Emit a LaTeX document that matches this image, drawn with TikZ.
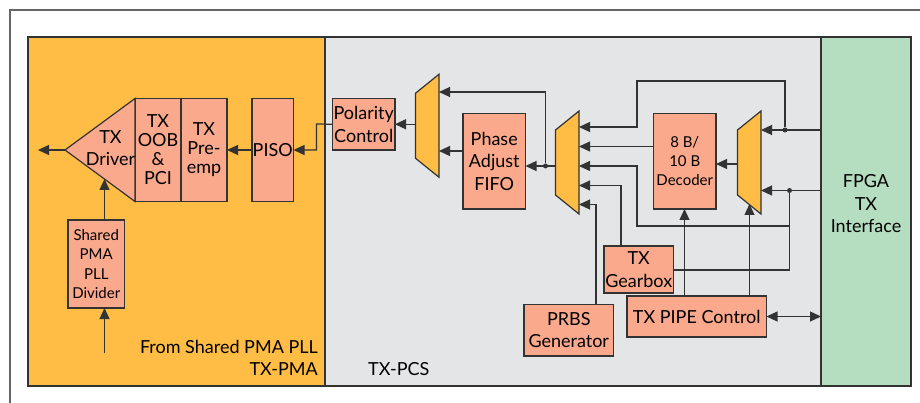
\documentclass[tikz,border=0pt]{standalone}
\usepackage{fontspec}
\setmainfont{Lato}
\usetikzlibrary{arrows.meta, positioning, calc}
\definecolor{pmayellow}{HTML}{FFBD45}
\definecolor{pcsgray}{HTML}{E4E5E7}
\definecolor{fpgagreen}{HTML}{B5DDC0}
\definecolor{blocksalmon}{HTML}{FBA98D}
\definecolor{wiregray}{HTML}{333333}
\tikzset{
  block/.style   = {draw=wiregray, fill=blocksalmon, rectangle, line width=1.2pt,
                    outer sep=0pt, inner sep=0pt, align=center,
                    font=\fontsize{18}{22.5}\selectfont},
  tblock/.style  = {block, font=\fontsize{18}{19}\selectfont},
  sblock/.style  = {block, font=\fontsize{15}{19.2}\selectfont},
  region/.style  = {draw=wiregray, rectangle, line width=1.2pt, outer sep=0pt, inner sep=0pt},
  muxbox/.style  = {rectangle, outer sep=0pt, inner sep=0pt,
                    minimum width=23.5pt, minimum height=103pt},
  junction/.style = {circle, fill=wiregray, minimum size=5pt, inner sep=0pt, outer sep=0pt},
  caption/.style = {font=\fontsize{18}{22.5}\selectfont, inner sep=0pt},
  wire/.style    = {draw=wiregray, line width=1.2pt},
  >={Triangle[length=11pt,width=10pt]}
}
% trapezoid over a named box
\newcommand{\muxshape}[2]{%
  \node[muxbox] (#1) at (#2) {};
  \draw[wire, fill=pmayellow] (#1.north east) -- (#1.south east)
    -- ($(#1.south west)+(0,-19)$) -- ($(#1.north west)+(0,19)$) -- cycle;
}
\begin{document}
\begin{tikzpicture}[x=1pt, y=-1pt]
  \useasboundingbox (0,0) rectangle (920,403);

  %% frame and panels
  \node[draw=black!60, line width=2pt, rectangle, minimum width=960pt, minimum height=460pt,
        anchor=north west, outer sep=0pt] (frame) at (10,10) {};
  \node[region, fill=pmayellow, minimum width=297pt, minimum height=349pt, anchor=north west] (pma) at (28,37) {};
  \node[region, fill=pcsgray, minimum width=496pt, minimum height=349pt, right=0pt of pma] (pcs) {};
  \node[region, fill=fpgagreen, minimum width=90pt, minimum height=349pt, right=0pt of pcs] (fpga) {};
  \node[caption, align=center] (fpgatext) at (866,204) {FPGA\\TX\\Interface};

  %% PMA blocks
  \coordinate (drvtip) at (65,150);
  \node[tblock, minimum width=46pt, minimum height=103pt, anchor=north west] (oob) at (135,98.5) {TX\\OOB\\\&\\PCI};
  \node[tblock, minimum width=46pt, minimum height=103pt, right=0pt of oob] (preemp) {TX\\Pre-\\emp};
  \node[block, minimum width=41.5pt, minimum height=103pt, right=25pt of preemp] (piso) {PISO};
  \draw[wire, fill=blocksalmon] (drvtip) -- (oob.north west) -- (oob.south west) -- cycle;
  \node[caption, align=center] (driver) at (110.5,148) {TX\\Driver};
  \node[sblock, minimum width=56.5pt, minimum height=88pt, anchor=north west] (divider) at (68,220) {Shared\\PMA\\PLL\\Divider};
  \coordinate (drvout) at (38,150);
  \coordinate (drvin) at (104.5,179);
  \coordinate (pllin) at (104.5,353);
  \node[caption, anchor=south east] (from) at (318,354) {From Shared PMA PLL};
  \node[caption, anchor=south east] (pmalabel) at (318,376) {TX-PMA};
  \node[caption, anchor=south west] (pcslabel) at (368,376) {TX-PCS};

  %% PCS blocks
  \node[block, minimum width=62.5pt, minimum height=51.5pt, anchor=north west] (polarity) at (332.5,98.5) {Polarity\\Control};
  \muxshape{muxa}{427.25,125.75}
  \node[block, minimum width=62.5pt, minimum height=95.5pt, anchor=north west] (fifo) at (463,113.5) {Phase\\Adjust\\FIFO};
  \muxshape{muxb}{567.25,162.5}
  \node[sblock, minimum width=62.5pt, minimum height=95.5pt, anchor=north west] (decoder) at (653.5,113.5) {8 B/\\10 B\\Decoder};
  \muxshape{muxc}{749.25,162.5}
  \node[block, minimum width=69.5pt, minimum height=47pt, anchor=north west] (gearbox) at (604,246) {TX\\Gearbox};
  \node[block, minimum width=139.5pt, minimum height=41pt, anchor=north west] (pipe) at (627,296) {TX PIPE Control};
  \node[block, minimum width=89.5pt, minimum height=51.5pt, anchor=north west] (prbs) at (524,304.5) {PRBS\\Generator};

  %% junctions
  \node[junction] (jfifo) at (545.5,166) {};
  \node[junction] (jtop)  at (785,130) {};
  \node[junction] (jbot)  at (789.5,190.5) {};

  %% PMA wires
  \draw[wire, ->] (drvtip) -- (drvout);
  \draw[wire, ->] (divider.north -| drvin) -- (drvin);
  \draw[wire, ->] (pllin) -- (divider.south -| pllin);
  \draw[wire, ->] (piso.west) -- (preemp.east);
  \draw[wire, ->] (polarity.west) -- (316.5,124) -- (316.5,150) -- (piso.east);

  %% PCS wires
  \draw[wire, ->] (muxa.west |- polarity.east) -- (polarity.east);
  \draw[wire, ->] (fifo.west |- 0,151) -- (muxa.east |- 0,151);
  \draw[wire, ->] (muxb.west |- jfifo) -- (fifo.east |- jfifo);
  \draw[wire, ->] (jfifo) |- (muxa.east |- 0,92);
  \draw[wire, ->] (jtop) -- (785,81) -- (637,81) -- (637,127) -- (muxb.east |- 0,127);
  \draw[wire, ->] (decoder.west |- 0,146.5) -- (muxb.east |- 0,146.5);
  \draw[wire, ->] (jbot) -- (789.5,226) -- (637,226) -- (637,166) -- (muxb.east |- 0,166);
  \draw[wire, ->] (gearbox.north -| 621,0) |- (muxb.east |- 0,185.5);
  \draw[wire, ->] (prbs.north -| 596,0) |- (muxb.east |- 0,204.5);
  \draw[wire, ->] (muxc.west |- 0,164) -- (decoder.east |- 0,164);
  \draw[wire, ->] (fpga.west |- jtop) -- (muxc.east |- jtop);
  \draw[wire, ->] (fpga.west |- jbot) -- (muxc.east |- jbot);
  \draw[wire] (gearbox.east |- 0,270) -| (jbot);
  \draw[wire, ->] (pipe.north -| 684.5,0) -- (684.5,209);
  \draw[wire, ->] (pipe.north -| 749.5,0) -- (749.5,204);
  \draw[wire, <->] (pipe.east |- 0,316.5) -- (fpga.west |- 0,316.5);

\end{tikzpicture}
\end{document}
